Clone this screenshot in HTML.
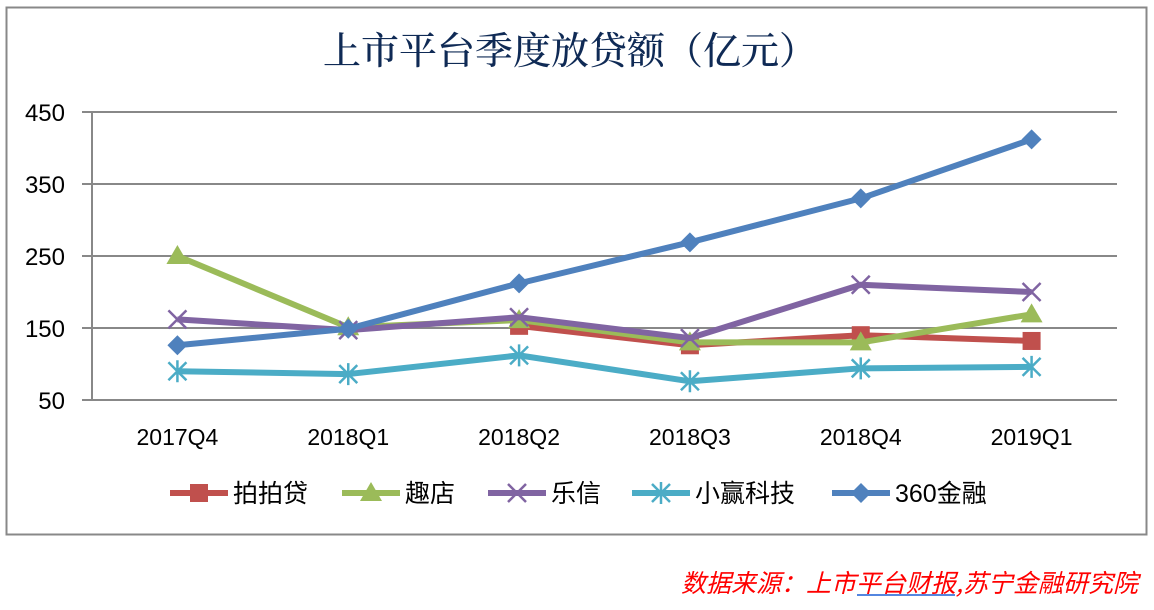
<!DOCTYPE html>
<html><head><meta charset="utf-8"><style>
body{margin:0;background:#fff;width:1154px;height:605px;overflow:hidden}
svg text{font-family:"Liberation Sans","Noto Sans CJK SC",sans-serif}
</style></head><body>
<svg width="1154" height="605" xmlns="http://www.w3.org/2000/svg">
<rect x="6.5" y="7.5" width="1140" height="527" fill="#fff" stroke="#888" stroke-width="2"/>
<text x="570" y="64" text-anchor="middle" font-size="38" fill="#0f2a55" font-weight="500" style="font-family:'Noto Serif CJK SC','Liberation Serif',serif">上市平台季度放贷额（亿元）</text>
<g id="grid"></g><g id="series"></g><g id="legend"></g>
<text x="1138" y="592" text-anchor="end" font-size="25" fill="#ff0000" font-style="italic" style="font-family:'Noto Sans CJK SC',sans-serif">数据来源：上市平台财报,苏宁金融研究院</text>
<line x1="857" y1="595" x2="955" y2="595" stroke="#1a5fd6" stroke-width="1.5"/>
</svg>
<script>
const categories=["2017Q4","2018Q1","2018Q2","2018Q3","2018Q4","2019Q1"];
const yTicks=[50,150,250,350,450];
const seriesNames=["拍拍贷","趣店","乐信","小赢科技","360金融"];
const ppd=[null,null,153,126,140,132];
const qudian=[250,151,161,130,130,169];
const lexin=[162,147,165,136,210,200];
const xiaoying=[90,86,112,76,94,96];
const jr360=[126,149,212,269,330,412];
const seriesData=[ppd,qudian,lexin,xiaoying,jr360];
const colors=["#c0504d","#9bbb59","#8064a2","#4bacc6","#4f81bd"];
const markers=["square","triangle","x","star","diamond"];
const NS="http://www.w3.org/2000/svg";
const L=92,R=1117,T=112,B=400;
const x=i=>L+(R-L)/categories.length*(i+0.5);
const y=v=>B-(v-50)/400*(B-T);
function mk(t,a,p){const e=document.createElementNS(NS,t);for(const k in a)e.setAttribute(k,a[k]);p.appendChild(e);return e;}
const g=document.getElementById('grid');
yTicks.forEach(v=>{
 const l=mk('line',{x1:82,x2:R,y1:y(v),y2:y(v),stroke:'#888','stroke-width':2},g);
 
 
 const t=mk('text',{x:65,y:y(v)+9,'text-anchor':'end','font-size':24,fill:'#000'},g);t.textContent=v;
 
 
});
const ax=mk('line',{x1:L,x2:L,y1:T,y2:B,stroke:'#888','stroke-width':2},g);


categories.forEach((c,i)=>{
 const t=mk('text',{x:x(i),y:445,'text-anchor':'middle','font-size':23,fill:'#000'},g);t.textContent=c;
 
 
});
function marker(type,cx,cy,col,p){
 let e;
 if(type==='square')e=mk('rect',{x:cx-9,y:cy-9,width:18,height:18,fill:col},p);
 else if(type==='triangle')e=mk('polygon',{points:`${cx},${cy-11} ${cx+11},${cy+8} ${cx-11},${cy+8}`,fill:col},p);
 else if(type==='diamond')e=mk('polygon',{points:`${cx},${cy-10} ${cx+10},${cy} ${cx},${cy+10} ${cx-10},${cy}`,fill:col},p);
 else if(type==='x')e=mk('path',{d:`M${cx-9} ${cy-9}L${cx+9} ${cy+9}M${cx+9} ${cy-9}L${cx-9} ${cy+9}`,stroke:col,'stroke-width':2.5},p);
 else e=mk('path',{d:`M${cx-9} ${cy-9}L${cx+9} ${cy+9}M${cx+9} ${cy-9}L${cx-9} ${cy+9}M${cx} ${cy-11}L${cx} ${cy+11}`,stroke:col,'stroke-width':2.5},p);
 return e;
}
const sg=document.getElementById('series');
seriesData.forEach((d,s)=>{
 const pts=[];d.forEach((v,i)=>{if(v!=null)pts.push([x(i),y(v)]);});
 const pl=mk('polyline',{points:pts.map(p=>p.join(',')).join(' '),fill:'none',stroke:colors[s],'stroke-width':6,'stroke-linejoin':'round'},sg);
 
 
 pts.forEach(p=>{const m=marker(markers[s],p[0],p[1],colors[s],sg);
  
  });
});
const lg=document.getElementById('legend');
const lx=[170,342,488,632,832];
seriesNames.forEach((n,s)=>{
 const gg=mk('g',{},lg);
 
 
 mk('line',{x1:lx[s],x2:lx[s]+58,y1:493,y2:493,stroke:colors[s],'stroke-width':6},gg);
 marker(markers[s],lx[s]+29,493,colors[s],gg);
 const t=mk('text',{x:lx[s]+63,y:502,'font-size':25,fill:'#000'},gg);t.textContent=n;
});
</script>
</body></html>
